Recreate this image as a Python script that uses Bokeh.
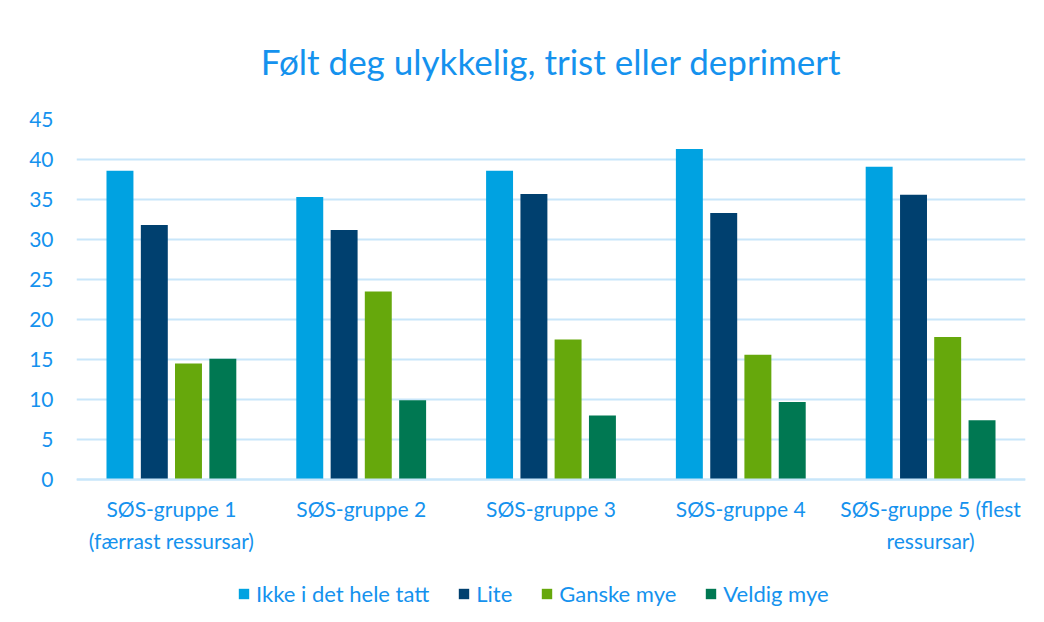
from bokeh.plotting import figure
from bokeh.models import Legend, LegendItem, ColumnDataSource
from bokeh.transform import dodge
from bokeh.embed import file_html
from bokeh.resources import INLINE

groups = ["SØS-gruppe 1\n(færrast ressursar)", "SØS-gruppe 2", "SØS-gruppe 3",
          "SØS-gruppe 4", "SØS-gruppe 5 (flest\nressursar)"]
series = ["Ikke i det hele tatt", "Lite", "Ganske mye", "Veldig mye"]
ikke = [38.6, 35.3, 38.6, 41.3, 39.1]
lite = [31.8, 31.2, 35.7, 33.3, 35.6]
ganske = [14.5, 23.5, 17.5, 15.6, 17.8]
veldig = [15.1, 9.9, 8.0, 9.7, 7.4]
y_ticks = [0, 5, 10, 15, 20, 25, 30, 35, 40, 45]

colors = ["#00a2e1", "#00406f", "#66a80c", "#007852"]
text_color = "#1592ee"
grid_color = "#c8e6fa"
font = "Lato"

src = ColumnDataSource(dict(group=groups, ikke=ikke, lite=lite, ganske=ganske, veldig=veldig))

# y range extends below 0 to leave room for category labels and legend inside the frame
p = figure(x_range=groups, y_range=(-16.5, 45), frame_width=949, frame_height=492,
           output_backend="svg", toolbar_location=None,
           min_border_left=76, min_border_right=3, min_border_top=111, min_border_bottom=0,
           title="Følt deg ulykkelig, trist eller deprimert")
p.outline_line_color = None
p.title.align = "center"
p.title.text_font = font
p.title.text_font_size = "35px"
p.title.text_font_style = "normal"
p.title.text_color = text_color
p.title.standoff = 75

keys = ["ikke", "lite", "ganske", "veldig"]
offsets = [-0.271, -0.09, 0.09, 0.271]
renderers = []
for k, off, c in zip(keys, offsets, colors):
    r = p.vbar(x=dodge("group", off, range=p.x_range), top=k, width=0.142, bottom=0,
               source=src, fill_color=c, line_color=None)
    renderers.append(r)

p.xgrid.grid_line_color = None
p.ygrid.grid_line_color = grid_color
p.ygrid.grid_line_width = 2
p.yaxis.ticker = y_ticks
p.yaxis.axis_line_color = None
p.yaxis.major_tick_line_color = None
p.yaxis.minor_tick_line_color = None
p.yaxis.major_label_text_font = font
p.yaxis.major_label_text_font_size = "21px"
p.yaxis.major_label_text_color = text_color
p.yaxis.major_label_standoff = 17

p.xaxis.fixed_location = 0
p.xaxis.axis_line_color = grid_color
p.xaxis.axis_line_width = 2
p.xaxis.major_tick_line_color = None
p.xaxis.minor_tick_line_color = None
p.xaxis.major_label_text_font = font
p.xaxis.major_label_text_font_size = "21px"
p.xaxis.major_label_text_color = text_color
p.xaxis.major_label_text_line_height = 1.3
p.xaxis.major_label_standoff = 10
p.xaxis.major_label_orientation = "horizontal"

legend = Legend(items=[LegendItem(label=s, renderers=[r]) for s, r in zip(series, renderers)],
                orientation="horizontal", location=(161, 4),
                label_text_font=font, label_text_font_size="22px", label_text_color=text_color,
                glyph_width=13, glyph_height=13, spacing=28, label_standoff=6,
                border_line_color=None, background_fill_alpha=0, margin=0, padding=0)
p.add_layout(legend, "center")

open("out.html", "w").write(file_html(p, INLINE))
